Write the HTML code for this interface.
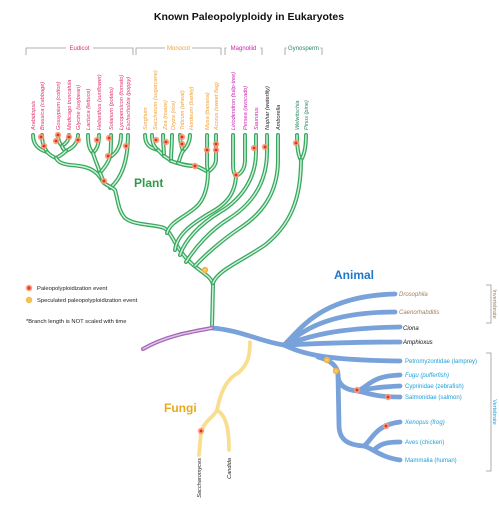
<!DOCTYPE html>
<html><head><meta charset="utf-8"><style>
html,body{margin:0;padding:0;background:#fff;}
svg{display:block;font-family:"Liberation Sans",sans-serif;}
.lbl{font-size:5.6px;font-style:italic;}
</style></head><body>
<svg id="chart" width="499" height="522" viewBox="0 0 499 522" xmlns="http://www.w3.org/2000/svg">
<text x="249" y="20" text-anchor="middle" font-size="10.5" font-weight="bold" fill="#111">Known Paleopolyploidy in Eukaryotes</text>
<g id="brackets" fill="none" stroke="#999" stroke-width="0.8"></g>
<g id="branches" fill="none" stroke-linecap="round"></g>
<g id="labels"></g>
<g id="dots"></g>
<text x="134" y="187" font-size="12" font-weight="bold" fill="#2e9a4a">Plant</text>
<text x="334" y="279" font-size="12" font-weight="bold" fill="#1e78c8">Animal</text>
<text x="164" y="412" font-size="12" font-weight="bold" fill="#e8a820">Fungi</text>
<g font-size="5.8" fill="#222">
<circle cx="29" cy="288" r="3.2" fill="#f7a080"/><circle cx="29" cy="288" r="1.6" fill="#e8342a"/>
<text x="37" y="290">Paleopolyploidization event</text>
<circle cx="29" cy="300" r="3.2" fill="#f5b860"/><circle cx="29" cy="300" r="1.6" fill="#f0d030"/>
<text x="37" y="302">Speculated paleopolyploidization event</text>
<text x="26" y="323">*Branch length is NOT scaled with time</text>
</g>
</svg>
<script>
const NS="http://www.w3.org/2000/svg";
const svg=document.getElementById('chart');
function mk(tag,attrs,parent){const e=document.createElementNS(NS,tag);for(const k in attrs)e.setAttribute(k,attrs[k]);parent.appendChild(e);return e;}

const bracketNames=["Eudicot","Monocot","Magnoliid","Gynosperm"];
const bracketX0=[26,136,225,285];
const bracketX1=[133,221,262,322];
const bracketColors=["#e0306a","#f0a030","#d020b0","#2a8a60"];
const bg=document.getElementById('brackets');
for(let i=0;i<bracketNames.length;i++){
  const p=mk('path',{d:`M${bracketX0[i]},55 V48 H${bracketX1[i]} V55`},bg);
  
  
  const cx=(bracketX0[i]+bracketX1[i])/2;
  const w=bracketNames[i].length*3.3+4;
  mk('rect',{x:cx-w/2,y:45,width:w,height:6,fill:'#fff',stroke:'none'},bg);
  const t=mk('text',{x:cx,y:50,'text-anchor':'middle','font-size':6,fill:bracketColors[i],stroke:'none'},bg);
  t.textContent=bracketNames[i];
  
  
}

const plantPaths=[
 "M33,135 C33,146 40,150 47,152","M42,135 C42,145 45,148 47,152",
 "M58,135 C58,141 60,144 62,146","M69,135 C69,141 65,144 62,146","M78,135 C78,144 72,148 66,151",
 "M62,146 C63,150 66,151 66,151","M66,151 C63,154 60,156 56,158","M47,152 C50,155 53,157 56,158",
 "M56,158 C58,162 62,164 70,165 C85,166 96,168 103,182",
 "M88,135 C88,146 90,150 93,153","M99,135 C99,146 96,150 93,153","M93,153 C95,160 98,166 100,173",
 "M111,135 C111,146 111,152 110,157","M121,135 C121,148 115,154 110,157","M110,157 C108,164 103,169 100,173",
 "M100,173 C102,177 103,180 104,183","M128,135 C128,160 122,178 110,188",
 "M104,183 C108,186 113,188 115,190 C118,200 118,210 125,218 C135,226 155,224 164,228 C172,232 175,248 190,262 C200,272 212,276 213,285 L212,328",
 "M145,135 C145,145 150,148 158,150","M152,135 C152,144 155,148 158,150","M158,150 C161,153 162,154 164,156",
 "M163,135 C163,145 164,150 164,156","M164,156 C167,158 169,159 171,161","M172,135 C172,145 171,152 171,161",
 "M180,135 C180,143 182,148 183,151","M190,135 C190,143 186,148 183,151","M183,151 C180,155 180,160 178,163",
 "M171,161 C176,163 182,165 195,166","M178,163 C183,165 188,166 195,166","M195,166 C200,167 204,170 208,172",
 "M207,135 L207,165 C207,168 208,170 208,172","M216,135 L216,160 C216,165 212,169 208,172",
 "M208,172 C208,185 205,200 195,208 C183,218 170,222 167,233",
 "M233,135 L233,165 C233,172 235,175 236,176","M245,135 L245,160 C245,170 240,174 236,176",
 "M236,176 C235,195 225,205 210,213 C190,225 177,235 175,250",
 "M256,135 L256,152 C256,180 240,200 220,212 C200,224 185,240 180,255",
 "M267,135 L267,152 C267,185 250,205 230,218 C210,230 195,248 186,262",
 "M278,135 L278,160 C278,195 260,215 240,228 C222,240 205,255 195,266",
 "M297,135 C297,150 299,157 301,160","M306,135 C306,150 303,157 301,160",
 "M301,160 C301,200 290,225 265,245 C240,262 218,270 213,283"
];
const blueMain=[
 "M212,328 C240,330 262,342 284,345","M284,345 C300,330 320,296 395,294",
 "M284,345 C300,335 320,312 395,312","M284,345 C305,338 330,328 400,327",
 "M284,345 C310,344 340,342 400,342","M284,345 C300,352 315,360 400,361",
 "M318,357 C330,360 338,366 338,375 C338,385 345,390 358,391",
 "M358,391 C370,385 372,376 400,375","M358,391 C372,388 380,387 400,386","M358,391 C370,394 378,397 400,397",
 "M338,375 L339,425 C339,440 348,445 364,446 C372,440 375,425 400,422",
 "M364,446 C374,449 380,457 400,460","M374,450 C380,444 386,442 400,442"
];
const purplePaths=["M212,328 C190,332 165,336 143,349"];
const yellowPaths=["M250,342 C250,355 248,365 238,373 C225,380 220,395 217,410",
 "M217,410 C213,418 205,420 201,432 L199,455","M217,410 C225,415 229,425 229,450"];

const brg=document.getElementById('branches');
function draw(list,color,w,inner,name){
  list.forEach((d,i)=>{
    const p=mk('path',{d:d,stroke:color,'stroke-width':w},brg);
    
    
    if(inner){const q=mk('path',{d:d,stroke:inner,'stroke-width':w*0.35},brg);
      
      }
  });
}
draw(plantPaths,'#3aa860',4,'#d4f3dc','plant-branch');
draw(blueMain,'#7aa2da',4.8,null,'animal-branch');
draw(purplePaths,'#a468b8',4,'#e3c6ec','protist-branch');
draw(yellowPaths,'#f8df90',3.8,null,'fungi-branch');

const plantNames=["Arabidopsis","Brassica (cabbage)","Gossypium (cotton)","Medicago truncatula","Glycine (soybean)","Lactuca (lettuce)","Helianthus (sunflower)","Solanum (potato)","Lycopersicon (tomato)","Eschscholzia (poppy)",
"Sorghum","Saccharum (sugarcane)","Zea (maize)","Oryza (rice)","Triticum (wheat)","Hordeum (barley)","Musa (banana)","Acorus (sweet flag)",
"Liriodendron (tulip-tree)","Persea (avocado)","Saururus","Nuphar (waterlily)","Amborella","Welwitschia","Pinus (pine)"];
const plantX=[33,42,58,69,78,88,99,111,121,128,145,155,165,173,182,191,207,216,233,245,256,267,278,297,306];
const plantColors=["#e0306a","#e0306a","#e0306a","#e0306a","#e0306a","#e0306a","#e0306a","#e0306a","#e0306a","#e0306a",
"#f0a030","#f0a030","#f0a030","#f0a030","#f0a030","#f0a030","#f0a030","#f0a030",
"#d020b0","#d020b0","#d020b0","#222","#222","#2a8a60","#2a8a60"];
const lg=document.getElementById('labels');
plantNames.forEach((n,i)=>{
  const t=mk('text',{class:'lbl',x:0,y:0,transform:`translate(${plantX[i]+2},130) rotate(-90)`,fill:plantColors[i]},lg);
  t.textContent=n;
  
  
});
const animalNames=["Drosophila","Caenorhabditis","Ciona","Amphioxus","Petromyzontidae (lamprey)","Fugu (pufferfish)","Cyprinidae (zebrafish)","Salmonidae (salmon)","Xenopus (frog)","Aves (chicken)","Mammalia (human)"];
const animalY=[294,312,328,342,361,375,386,397,422,442,460];
const animalColors=["#a08060","#a08060","#111","#111","#1ea0d8","#1ea0d8","#1ea0d8","#1ea0d8","#1ea0d8","#1ea0d8","#1ea0d8"];
animalNames.forEach((n,i)=>{
  const t=mk('text',{x:i<2?399:(i<4?403:405),y:animalY[i]+2,'font-size':6,fill:animalColors[i],'font-style':(i<4||i==5||i==8)?'italic':'normal'},lg);
  t.textContent=n;
  
  
});
[[285,323,"Invertebrate","#a08060"],[353,471,"Vertebrate","#1ea0d8"]].forEach(b=>{
  const p=mk('path',{d:`M486,${b[0]} H491 V${b[1]} H486`,fill:'none',stroke:'#999','stroke-width':0.8},lg);
  
  
  const cy=(b[0]+b[1])/2;
  const t=mk('text',{x:0,y:0,transform:`translate(493,${cy}) rotate(90)`,'text-anchor':'middle','font-size':5.5,fill:b[3]},lg);
  t.textContent=b[2];
  
  
});
[["Saccharomyces",199],["Candida",229]].forEach(f=>{
  const t=mk('text',{class:'lbl',x:0,y:0,transform:`translate(${f[1]+2},458) rotate(-90)`,'text-anchor':'end',fill:'#222'},lg);
  t.textContent=f[0];
  
  
});

const redX=[41,44,58,56,69,78,97,109,108,126,104,156,166,182,182,207,216,216,195,236,254,265,296,357,388,386,201];
const redY=[137,146,135,141,137,140,140,138,156,146,181,140,142,137,144,150,144,150,166,175,148,147,143,390,397,426,431];
const orangeX=[205,327,336];
const orangeY=[270,360,371];
const dg=document.getElementById('dots');
redX.forEach((x,i)=>{
  const c=mk('circle',{cx:x,cy:redY[i],r:3.2,fill:'#f79a78',opacity:0.9},dg);
  
  
  mk('circle',{cx:x,cy:redY[i],r:1.4,fill:'#e53020'},dg);
});
orangeX.forEach((x,i)=>{
  const c=mk('circle',{cx:x,cy:orangeY[i],r:3.2,fill:'#f2b058'},dg);
  
  
  mk('circle',{cx:x,cy:orangeY[i],r:1.5,fill:'#f5d840'},dg);
});
</script>
</body></html>
